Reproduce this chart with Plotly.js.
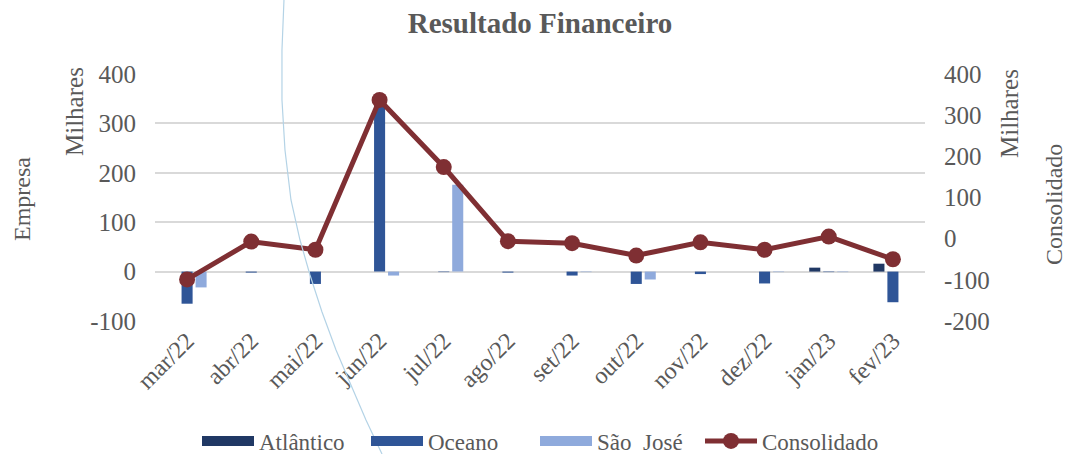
<!DOCTYPE html>
<html>
<head>
<meta charset="utf-8">
<script src="https://cdn.plot.ly/plotly-3.0.1.min.js"></script>
<style>html,body{margin:0;padding:0;background:#fff;}#chart{width:1068px;height:454px;}</style>
</head>
<body>
<div id="chart"></div>
<script>
// ---- data ----
const months = ["mar/22","abr/22","mai/22","jun/22","jul/22","ago/22","set/22","out/22","nov/22","dez/22","jan/23","fev/23"];
const atlantico = [0, 0, 0, 0, 0, 0, 0, 0, 0, 0, 8, 16];
const oceano    = [-65, -2, -25, 337, -1, -2, -8, -25, -5, -24, -1, -62];
const saoJose   = [-32, 0, 0, -8, 176, 0, -1, -16, 0, -1, -1, 0];
const consolidado = [-99, -7, -27, 337, 174, -6, -11, -41, -9, -27, 5, -50];
const seriesNames = ["Atlântico", "Oceano", "São  José", "Consolidado"];
const leftTicks = [-100, 0, 100, 200, 300, 400];
const leftTickText = ["-100", "0", "100", "200", "300", "400"];
const rightTicks = [-200, -100, 0, 100, 200, 300, 400];
const rightTickText = ["-200", "-100", "0", "100", "200", "300", "400"];

// ---- styles ----
const FONT = "Liberation Serif";
const GREY = "#595959";
const cAtl = "#203864", cOce = "#2F5597", cSJ = "#8FAADC", cCon = "#7F2F33";
const f = (s) => ({family: FONT, size: s, color: GREY});

const W = 1068, H = 454, ML = 155, MR = 143, MT = 74, MB = 133;
const PW = W - ML - MR, PH = H - MT - MB;
const px = x => (x - ML) / PW;
const py = y => (H - MB - y) / PH;

const traces = [
  {type:"bar", name:seriesNames[0], x:months, y:atlantico, marker:{color:cAtl}, showlegend:false},
  {type:"bar", name:seriesNames[1], x:months, y:oceano, marker:{color:cOce}, showlegend:false},
  {type:"bar", name:seriesNames[2], x:months, y:saoJose, marker:{color:cSJ}, showlegend:false},
  {type:"scatter", mode:"lines+markers", name:seriesNames[3], x:months, y:consolidado, yaxis:"y2",
   line:{color:cCon, width:5}, marker:{color:cCon, size:16}, showlegend:false, cliponaxis:false},
  // legend proxies
  {type:"scatter", mode:"lines", name:seriesNames[0], x:[null], y:[null], line:{color:cAtl, width:11}, legend:"legend"},
  {type:"scatter", mode:"lines", name:seriesNames[1], x:[null], y:[null], line:{color:cOce, width:11}, legend:"legend"},
  {type:"scatter", mode:"lines", name:seriesNames[2], x:[null], y:[null], line:{color:cSJ, width:11}, legend:"legend"},
  {type:"scatter", mode:"lines+markers", name:seriesNames[3], x:[null], y:[null], yaxis:"y2",
   line:{color:cCon, width:5}, marker:{color:cCon, size:16}, legend:"legend2"}
];

// decorative arc (pixel points -> paper)
const arcPts = [[284,0],[282,50],[282,100],[285,150],[291,200],[300,240],[310,275],[322,312],[336,350],[351,385],[366,420],[382,454]];
let arcPath = "M" + arcPts.map(p => px(p[0]).toFixed(4) + "," + py(p[1]).toFixed(4)).join(" L");

const legendCommon = {orientation: "h", yanchor: "middle", y: py(441), font: f(23), itemwidth: 52,
                      tracegroupgap: 0, bgcolor: "rgba(0,0,0,0)", xanchor: "left"};

const layout = {
  width: W, height: H,
  margin: {l: ML, r: MR, t: MT, b: MB, autoexpand: false},
  paper_bgcolor: "#fff", plot_bgcolor: "#fff",
  font: f(22),
  title: {text: "<b>Resultado Financeiro</b>", xref: "paper", x: 0.5, xanchor: "center", y: 1 - 23/H, yanchor: "middle",
          font: f(29)},
  barmode: "group", bargap: 0.346, bargroupgap: 0.21,
  xaxis: {type: "category", categoryarray: months, range: [-0.5, 11.5], showgrid: false, showline: false,
          zeroline: false, ticks: "", tickangle: -45, tickfont: f(24), fixedrange: true},
  xaxis2: {overlaying: "x", anchor: "free", position: py(272), range: [-0.5, 11.5], tick0: -0.5, dtick: 1,
           showline: true, linecolor: "#d9d9d9", linewidth: 2, ticks: "outside", ticklen: 5, tickwidth: 2,
           tickcolor: "#d9d9d9", showticklabels: false, showgrid: false, zeroline: false},
  yaxis: {range: [-100, 400], tickmode: "array", tickvals: leftTicks, ticktext: leftTickText,
          showgrid: true, gridcolor: "#d9d9d9", gridwidth: 2, zeroline: false,
          showline: false, ticks: "", tickfont: f(25), ticklabelstandoff: 18},
  yaxis2: {overlaying: "y", side: "right", range: [-200, 400], tickmode: "array", tickvals: rightTicks, ticktext: rightTickText,
           showgrid: false, zeroline: false, showline: false, ticks: "", tickfont: f(25), ticklabelstandoff: 18},
  legend: Object.assign({}, legendCommon, {x: px(197), entrywidth: 102}),
  legend2: Object.assign({}, legendCommon, {x: px(700)}),
  annotations: [
    {text: "Empresa", xref: "paper", yref: "paper", x: px(22), y: py(199), textangle: -90, showarrow: false,
     xanchor: "center", yanchor: "middle", font: f(24)},
    {text: "Milhares", xref: "paper", yref: "paper", x: px(74), y: py(112), textangle: -90, showarrow: false,
     xanchor: "center", yanchor: "middle", font: f(25)},
    {text: "Milhares", xref: "paper", yref: "paper", x: px(1009), y: py(114), textangle: -90, showarrow: false,
     xanchor: "center", yanchor: "middle", font: f(25)},
    {text: "Consolidado", xref: "paper", yref: "paper", x: px(1054), y: py(205), textangle: -90, showarrow: false,
     xanchor: "center", yanchor: "middle", font: f(24)}
  ],
  shapes: [
    {type: "path", xref: "paper", yref: "paper", path: arcPath, line: {color: "#B4D3E6", width: 1.2}, layer: "above"}
  ],
  showlegend: true
};

Plotly.newPlot("chart", traces, layout, {displayModeBar: false, staticPlot: true});
</script>
</body>
</html>
